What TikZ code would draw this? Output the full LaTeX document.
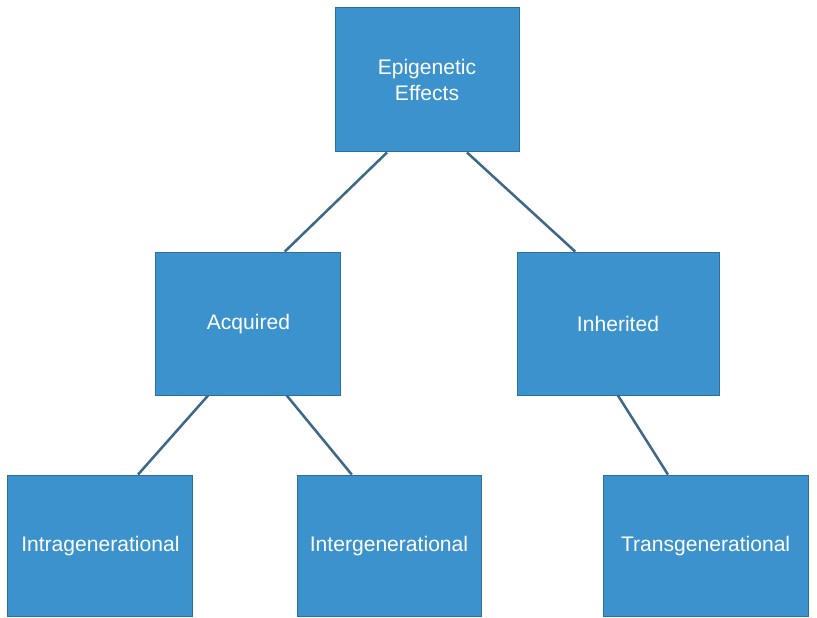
\documentclass[tikz,border=0pt]{standalone}
\usepackage{fontspec}
\setmainfont{Liberation Sans}
\usepackage{xcolor}
\usepackage{tikz}
\usetikzlibrary{shapes,positioning,calc}
\definecolor{boxblue}{RGB}{59,146,204}
\definecolor{boxedge}{RGB}{44,112,162}
\definecolor{linkgray}{RGB}{62,104,134}
\tikzstyle{effect} = [rectangle, draw=boxedge, fill=boxblue, text=white, line width=0.7pt, inner sep=0pt, align=center, font=\fontsize{15}{18}\selectfont]

\begin{document}
\begin{tikzpicture}
    \tikzstyle{link} = [draw=linkgray, line width=1.8pt]
    \useasboundingbox (0,0) rectangle (20.425,15.45);
    \node[effect, minimum width=4.6cm, minimum height=3.6cm] (epi) at (10.675,13.45) {Epigenetic\\Effects};
    \node[effect, minimum width=4.625cm, minimum height=3.575cm] (acq) at (6.21,7.36) {Acquired};
    \node[effect, minimum width=5.05cm, minimum height=3.575cm] (inh) at (15.45,7.36) {Inherited};
    \node[effect, minimum width=4.625cm, minimum height=3.525cm] (intra) at (2.51,1.81) {Intragenerational};
    \node[effect, minimum width=4.6cm, minimum height=3.525cm] (inter) at (9.725,1.81) {Intergenerational};
    \node[effect, minimum width=5.125cm, minimum height=3.525cm] (trans) at (17.64,1.81) {Transgenerational};
    \draw[link] ([xshift=-1cm]epi.south) -- ([xshift=0.91cm]acq.north);
    \draw[link] ([xshift=1cm]epi.south) -- ([xshift=-1.07cm]inh.north);
    \draw[link] ([xshift=-1.01cm]acq.south) -- ([xshift=0.94cm]intra.north);
    \draw[link] ([xshift=0.96cm]acq.south) -- ([xshift=-0.93cm]inter.north);
    \draw[link] (inh.south) -- ([xshift=-0.94cm]trans.north);
\end{tikzpicture}
\end{document}
